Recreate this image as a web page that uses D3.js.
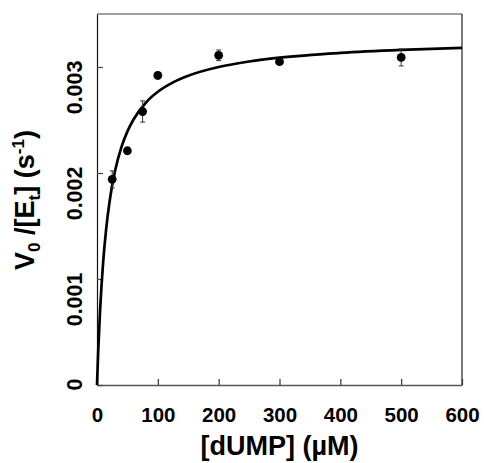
<!DOCTYPE html>
<html><head><meta charset="utf-8">
<script src="https://cdn.jsdelivr.net/npm/d3@7"></script>
<style>
html,body{margin:0;padding:0;background:#fff;}
svg{display:block;}
text{font-family:"Liberation Sans",Arial,sans-serif;font-weight:bold;fill:#000;}
</style></head>
<body>
<script>
// Data
const substrate = [25, 50, 75, 100, 200, 300, 500];          // [dUMP] (µM)
const rate      = [0.00194, 0.00221, 0.00258, 0.00292, 0.00311, 0.00305, 0.00309];
const rateErr   = [0.00008, 0.00003, 0.00010, 0.00003, 0.00005, 0.00002, 0.00008];
// fitted curve
const curveX = [0, 2, 5, 10, 15, 20, 25, 30, 40, 50, 60, 80, 100, 125, 150, 200, 250, 300, 400, 500, 600];
const curveY = [0, 0.00032, 0.000697, 0.00115, 0.001468, 0.001703, 0.001884, 0.002028, 0.002241, 0.002393,
                0.002505, 0.002662, 0.002766, 0.002855, 0.002918, 0.003000, 0.003052, 0.003088, 0.003133, 0.003161, 0.003180];
const xTicks = [0, 100, 200, 300, 400, 500, 600];
const yTicks = [0, 0.001, 0.002, 0.003];
const yTickLabels = ["0", "0.001", "0.002", "0.003"];

const W = 484, H = 463;
const svg = d3.select("body").append("svg").attr("width", W).attr("height", H);
const g = svg.append("g");

const pLeft = 97, pRight = 462, pTop = 14, pBottom = 385;
const x = d3.scaleLinear().domain([0, 600]).range([pLeft, pRight]);
const y = d3.scaleLinear().domain([0, 0.0035]).range([pBottom, pTop]);

// frame
g.append("line").attr("x1", pLeft).attr("x2", pRight).attr("y1", pTop).attr("y2", pTop)
  .attr("stroke", "#808080").attr("stroke-width", 1.5);
g.append("line").attr("x1", pRight).attr("x2", pRight).attr("y1", pTop).attr("y2", pBottom)
  .attr("stroke", "#222").attr("stroke-width", 1.2);

// x axis (ticks inward)
const xa = g.append("g").attr("transform", `translate(0,${pBottom})`)
  .call(d3.axisBottom(x).tickValues(xTicks).tickSizeInner(-6).tickSizeOuter(0).tickFormat(d3.format("d")));
xa.select(".domain").attr("stroke", "#555").attr("stroke-width", 1.5);
xa.selectAll(".tick line").attr("stroke", "#333").attr("stroke-width", 1.2);
xa.selectAll(".tick text").remove();
xa.selectAll(".tick").append("text").attr("y", 36.5).attr("text-anchor", "middle")
  .style("font-size", "20.5px").text(d => d);

// y axis (ticks inward)
const ya = g.append("g").attr("transform", `translate(${pLeft},0)`)
  .call(d3.axisLeft(y).tickValues(yTicks).tickSizeInner(-6).tickSizeOuter(0));
ya.select(".domain").attr("stroke", "#111").attr("stroke-width", 1.2);
ya.selectAll(".tick line").attr("stroke", "#444").attr("stroke-width", 1.2);
ya.selectAll(".tick text").remove();
ya.selectAll(".tick").append("text")
  .attr("transform", `translate(${82 - pLeft},-7) rotate(-90)`)
  .attr("text-anchor", "end").style("font-size", "21.5px")
  .text((d, i) => yTickLabels[i]);

// curve
const line = d3.line().x(d => x(d[0])).y(d => y(d[1])).curve(d3.curveMonotoneX);
g.append("path").datum(curveX.map((v, i) => [v, curveY[i]]))
  .attr("d", line).attr("fill", "none").attr("stroke", "#000").attr("stroke-width", 2.7);

// error bars and points
const pts = substrate.map((s, i) => ({s, v: rate[i], e: rateErr[i]}));
const eb = g.append("g").attr("stroke", "#333").attr("stroke-width", 1);
pts.forEach(p => {
  eb.append("line").attr("x1", x(p.s)).attr("x2", x(p.s)).attr("y1", y(p.v - p.e)).attr("y2", y(p.v + p.e));
  [p.v - p.e, p.v + p.e].forEach(v =>
    eb.append("line").attr("x1", x(p.s) - 2.5).attr("x2", x(p.s) + 2.5).attr("y1", y(v)).attr("y2", y(v)));
});
g.append("g").selectAll("circle").data(pts).join("circle")
  .attr("cx", d => x(d.s)).attr("cy", d => y(d.v)).attr("r", 4.4).attr("fill", "#000");

// axis titles
g.append("text").attr("x", (pLeft + pRight) / 2).attr("y", 455).attr("text-anchor", "middle")
  .style("font-size", "27px").text("[dUMP] (µM)");

const yt = g.append("text").attr("transform", `translate(34,200) rotate(-90)`)
  .attr("text-anchor", "middle").style("font-size", "27px");
yt.append("tspan").text("V");
yt.append("tspan").attr("dy", 6).style("font-size", "17px").text("0");
yt.append("tspan").attr("dy", -6).text(" /[E");
yt.append("tspan").attr("dy", 6).style("font-size", "17px").text("t");
yt.append("tspan").attr("dy", -6).text("] (s");
yt.append("tspan").attr("dy", -10).style("font-size", "17px").text("-1");
yt.append("tspan").attr("dy", 10).text(")");
</script>
</body></html>
